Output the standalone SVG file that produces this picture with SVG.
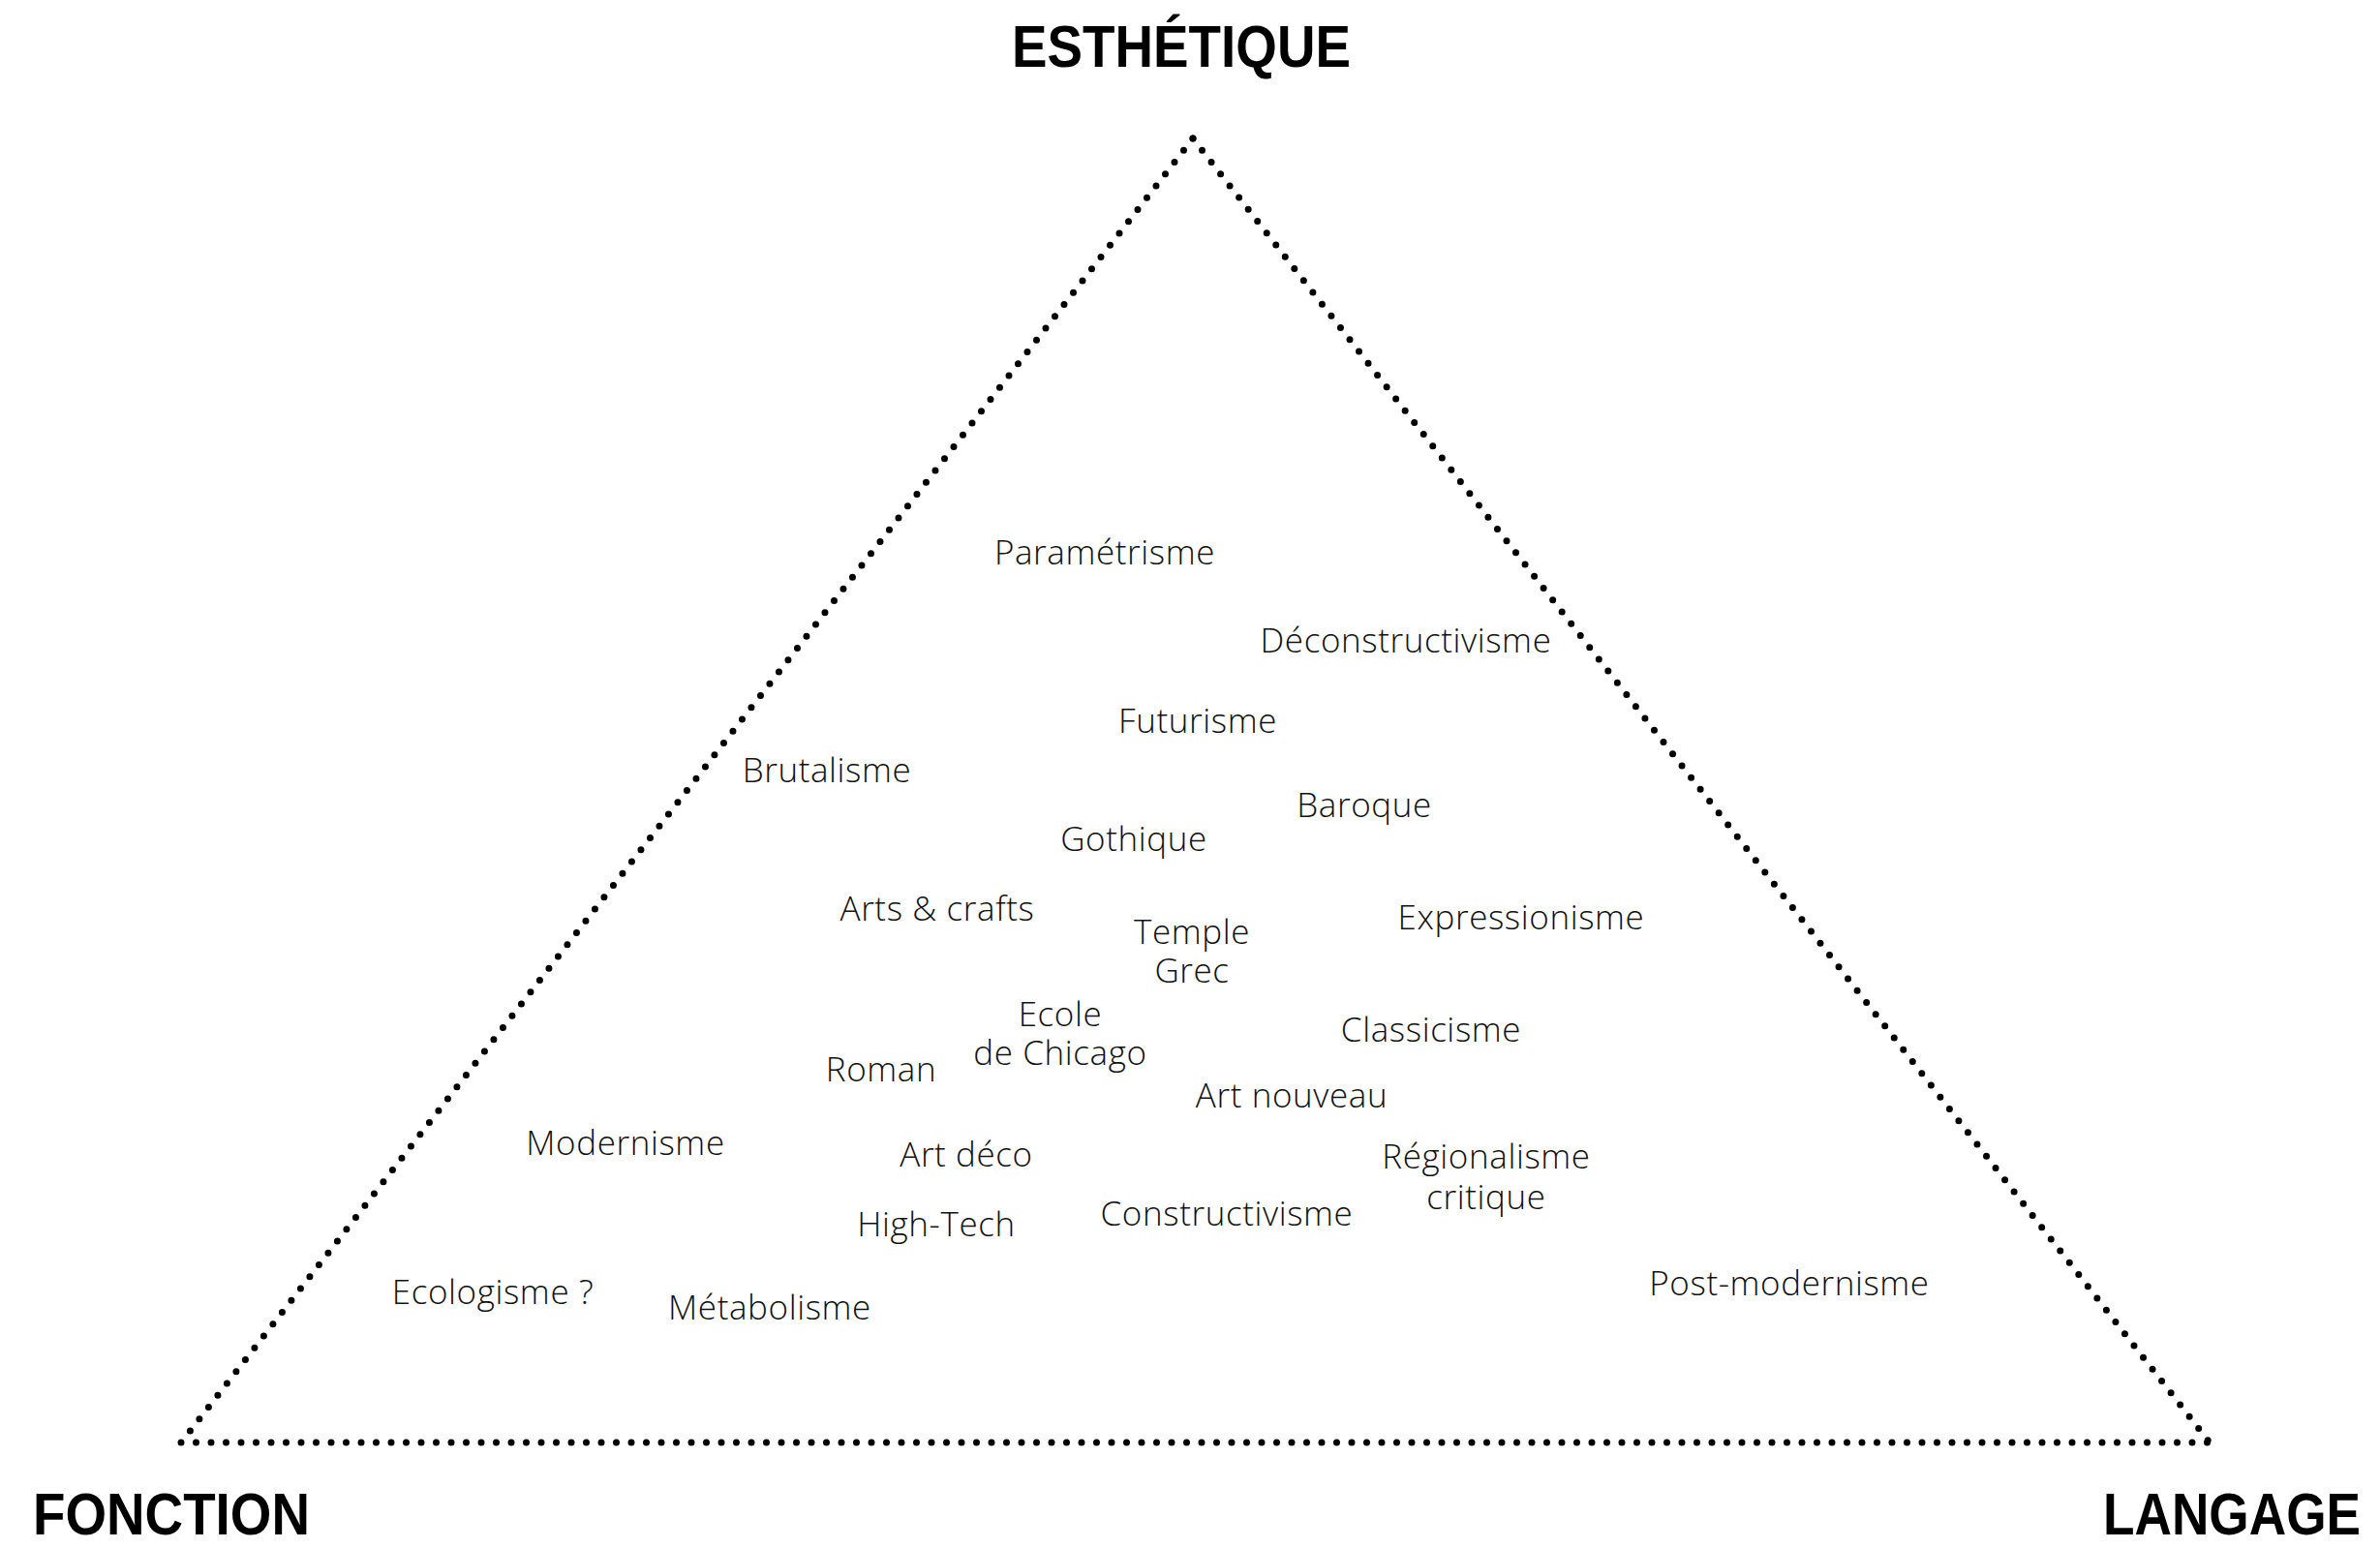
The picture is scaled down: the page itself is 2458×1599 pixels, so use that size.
<svg xmlns="http://www.w3.org/2000/svg" width="2458" height="1599" viewBox="0 0 2458 1599">
<style>
.edge{stroke:#000;stroke-width:7;stroke-linecap:round;stroke-dasharray:0 15.5;fill:none}
.lbl{font-family:"Open Sans","Noto Sans","Liberation Sans",sans-serif;font-weight:300;font-size:35px;letter-spacing:0.6px;fill:#111;text-anchor:middle}
.pole{font-family:"Liberation Sans","Arial",sans-serif;font-weight:bold;font-size:61px;fill:#000}
</style>
<rect width="2458" height="1599" fill="#fff"/>
<g id="connectors">
<line class="edge" x1="1232" y1="143" x2="187" y2="1490"/>
<line class="edge" x1="1232" y1="143" x2="2282" y2="1490"/>
<line class="edge" x1="187" y1="1490" x2="2282" y2="1490"/>
</g>
<g id="pole-esthetique"><text class="pole" x="1045" y="69" textLength="350" lengthAdjust="spacingAndGlyphs">ESTHÉTIQUE</text></g>
<g id="pole-fonction"><text class="pole" x="34" y="1585" textLength="286" lengthAdjust="spacingAndGlyphs">FONCTION</text></g>
<g id="pole-langage"><text class="pole" x="2172" y="1585" textLength="266" lengthAdjust="spacingAndGlyphs">LANGAGE</text></g>
<g id="parametrisme"><text class="lbl" x="1141" y="583">Paramétrisme</text></g>
<g id="deconstructivisme"><text class="lbl" x="1452" y="674">Déconstructivisme</text></g>
<g id="futurisme"><text class="lbl" x="1237" y="757">Futurisme</text></g>
<g id="brutalisme"><text class="lbl" x="854" y="808">Brutalisme</text></g>
<g id="baroque"><text class="lbl" x="1409" y="844">Baroque</text></g>
<g id="gothique"><text class="lbl" x="1171" y="879">Gothique</text></g>
<g id="arts-crafts"><text class="lbl" x="968" y="951">Arts &amp; crafts</text></g>
<g id="expressionisme"><text class="lbl" x="1571" y="960">Expressionisme</text></g>
<g id="temple-grec"><text class="lbl" x="1231" y="975">Temple</text><text class="lbl" x="1231" y="1015">Grec</text></g>
<g id="ecole-chicago"><text class="lbl" x="1095" y="1060">Ecole</text><text class="lbl" x="1095" y="1100">de Chicago</text></g>
<g id="classicisme"><text class="lbl" x="1478" y="1076">Classicisme</text></g>
<g id="roman"><text class="lbl" x="910" y="1117">Roman</text></g>
<g id="art-nouveau"><text class="lbl" x="1334" y="1144">Art nouveau</text></g>
<g id="modernisme"><text class="lbl" x="646" y="1193">Modernisme</text></g>
<g id="art-deco"><text class="lbl" x="998" y="1205">Art déco</text></g>
<g id="regionalisme-critique"><text class="lbl" x="1535" y="1207">Régionalisme</text><text class="lbl" x="1535" y="1249">critique</text></g>
<g id="high-tech"><text class="lbl" x="967" y="1277">High-Tech</text></g>
<g id="constructivisme"><text class="lbl" x="1267" y="1266">Constructivisme</text></g>
<g id="ecologisme"><text class="lbl" x="509" y="1347">Ecologisme ?</text></g>
<g id="metabolisme"><text class="lbl" x="795" y="1363">Métabolisme</text></g>
<g id="post-modernisme"><text class="lbl" x="1848" y="1338">Post-modernisme</text></g>
</svg>
